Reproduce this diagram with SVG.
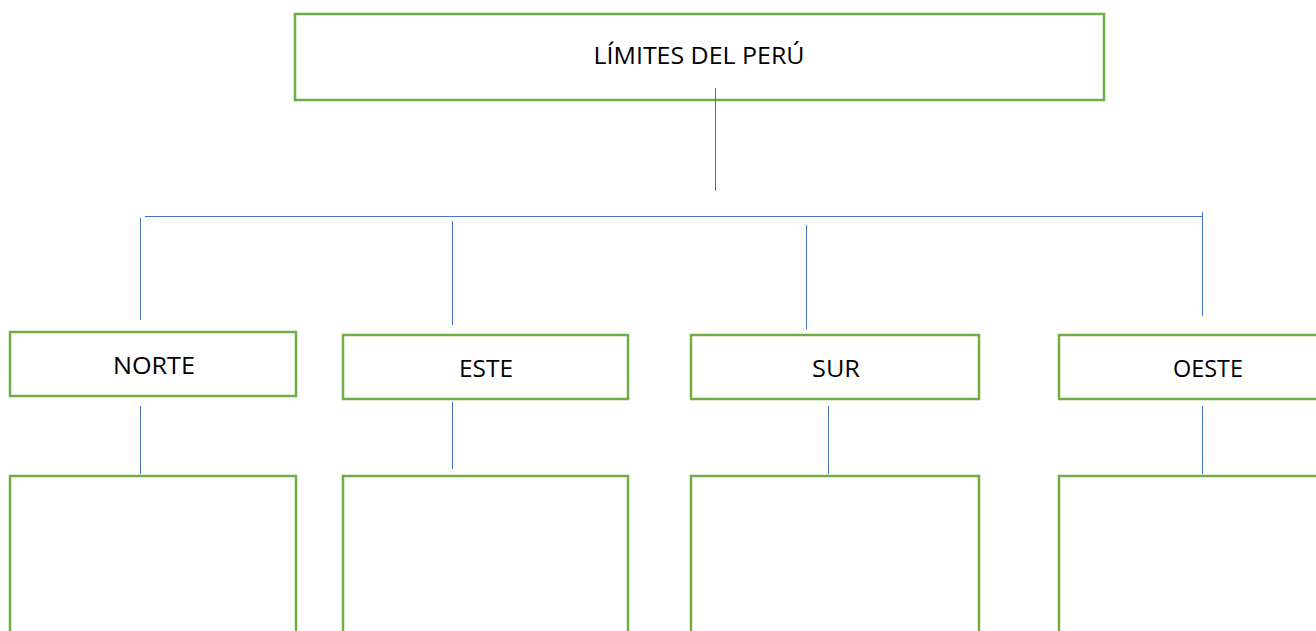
<svg xmlns="http://www.w3.org/2000/svg" width="1316" height="631" viewBox="0 0 1316 631">
<style>
.box{fill:#fff;stroke:#70AD47;stroke-width:2.5}
.lbl{font-family:"Open Sans","Liberation Sans",sans-serif;font-size:24px;fill:#000;text-anchor:middle}
.ln{stroke:#4472C4;stroke-width:1;fill:none}
</style>
<rect width="1316" height="631" fill="#fff"/>
<g id="root"><rect class="box" x="295" y="14" width="809" height="86"/><text class="lbl" x="699" y="64" textLength="211" lengthAdjust="spacingAndGlyphs">LÍMITES DEL PERÚ</text></g>
<g id="norte"><rect class="box" x="10" y="332" width="286" height="64"/><text class="lbl" x="154" y="374" textLength="82" lengthAdjust="spacingAndGlyphs">NORTE</text></g>
<g id="este"><rect class="box" x="343" y="335" width="285" height="64"/><text class="lbl" x="486" y="377" textLength="54" lengthAdjust="spacingAndGlyphs">ESTE</text></g>
<g id="sur"><rect class="box" x="691" y="335" width="288" height="64"/><text class="lbl" x="836" y="377" textLength="48" lengthAdjust="spacingAndGlyphs">SUR</text></g>
<g id="oeste"><rect class="box" x="1059" y="335" width="270" height="64"/><text class="lbl" x="1208" y="377" textLength="70" lengthAdjust="spacingAndGlyphs">OESTE</text></g>
<g id="norte-box"><rect class="box" x="10" y="476" width="286" height="170"/></g>
<g id="este-box"><rect class="box" x="343" y="476" width="285" height="170"/></g>
<g id="sur-box"><rect class="box" x="691" y="476" width="288" height="170"/></g>
<g id="oeste-box"><rect class="box" x="1059" y="476" width="270" height="170"/></g>
<g id="connectors">
<line class="ln" x1="715.5" y1="88" x2="715.5" y2="191"/>
<line class="ln" x1="145" y1="216.5" x2="1202" y2="216.5"/>
<line class="ln" x1="140.5" y1="218" x2="140.5" y2="320"/>
<line class="ln" x1="452.5" y1="221" x2="452.5" y2="325"/>
<line class="ln" x1="806.5" y1="225" x2="806.5" y2="329"/>
<line class="ln" x1="1202.5" y1="212" x2="1202.5" y2="316"/>
<line class="ln" x1="140.5" y1="406" x2="140.5" y2="474"/>
<line class="ln" x1="452.5" y1="402" x2="452.5" y2="469"/>
<line class="ln" x1="828.5" y1="406" x2="828.5" y2="474"/>
<line class="ln" x1="1202.5" y1="406" x2="1202.5" y2="474"/>
</g>
</svg>
